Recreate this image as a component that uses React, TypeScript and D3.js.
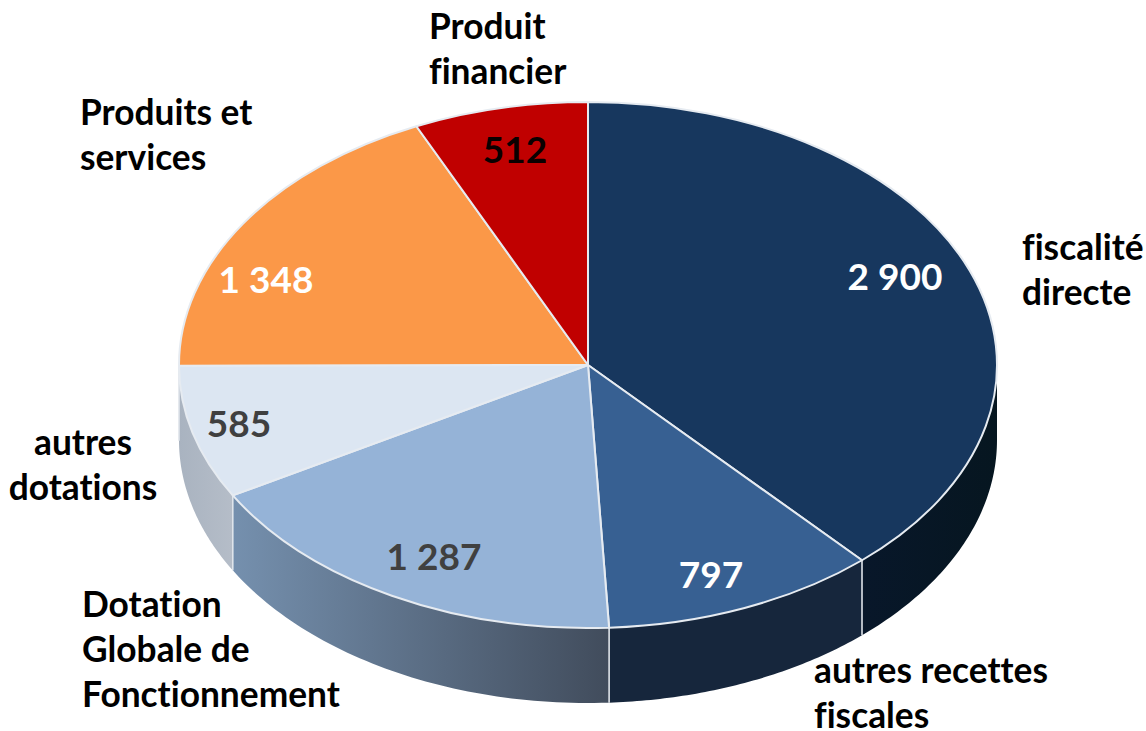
import React from 'react';
import * as d3 from 'd3';

const categories = ['fiscalité directe', 'autres recettes fiscales', 'Dotation Globale de Fonctionnement', 'autres dotations', 'Produits et services', 'Produit financier'];
const values = [2900, 797, 1287, 585, 1348, 512];
const valueLabels = ['2 900', '797', '1 287', '585', '1 348', '512'];

const categoryLines = [['fiscalité', 'directe'], ['autres recettes', 'fiscales'], ['Dotation', 'Globale de', 'Fonctionnement'], ['autres', 'dotations'], ['Produits et', 'services'], ['Produit', 'financier']];
const topColors = ['#17375e', '#376092', '#95b3d7', '#dce6f2', '#fb9848', '#c00000'];
const valueColors = ['#ffffff', '#ffffff', '#404040', '#404040', '#ffffff', '#0a0000'];
const wallFrom = ['#08172a', '#16263c', '#7590ae', '#a9b3c0', '#fb9848', '#c00000'];
const wallTo = ['#061620', '#16263c', '#414c5c', '#b5bdc8', '#fb9848', '#c00000'];

// label placement: [x, first baseline] for names, [centre x, baseline] for values
const categoryPos = [[1022, 260], [814, 683], [82, 617], [83, 455], [80, 125], [429, 39]];
const categoryAnchor = ['start', 'start', 'start', 'middle', 'start', 'start'];
const valuePos = [[895, 290], [711, 588], [434, 570], [239, 437], [266, 293], [515, 163]];

const W = 1146;
const H = 731;
const cx = 588;
const cy = 365;
const rx = 409;
const ry = 263;
const depth = 75;
const lineGap = 45.2;
const deg = Math.PI / 180;

// the tilted 3D pie squeezes the front slices a little
const tilt = d3.scaleLinear()
  .domain([0, 140, 180, 240, 270, 360].map(d => d * deg))
  .range([0, 137.4, 177.9, 238.7, 270, 360].map(d => d * deg));

const slices = d3.pie<number>().sort(null)(values).map(s => ({
  ...s,
  startAngle: tilt(s.startAngle),
  endAngle: tilt(s.endAngle),
}));

const arc = d3.arc<any>().innerRadius(0).outerRadius(rx);

const px = (a: number) => cx + rx * Math.sin(a);
const py = (a: number) => cy - ry * Math.cos(a);

const wallArea = d3.area<number>().x(px).y0(py).y1(a => py(a) + depth);

// only the part of a slice facing the viewer has a wall
function wallAngles(s: { startAngle: number; endAngle: number }) {
  const a0 = Math.max(s.startAngle, 90 * deg);
  const a1 = Math.min(s.endAngle, 270 * deg);
  if (a1 <= a0) return null;
  const n = 60;
  return d3.range(n + 1).map(i => a0 + ((a1 - a0) * i) / n);
}

export default function App() {
  const fontFamily = 'Lato, sans-serif';
  return (
    <svg width={W} height={H} style={{ position: 'absolute', left: 0, top: 0, background: '#fff', fontVariantLigatures: 'none' }} fontFamily={fontFamily} fontWeight={700}>
      <defs>
        {slices.map((s, i) => {
          const angles = wallAngles(s);
          if (!angles) return null;
          return (
            <linearGradient key={i} id={`wall${i}`} gradientUnits="userSpaceOnUse" x1={d3.min(angles, px)} x2={d3.max(angles, px)} y1={0} y2={0}>
              <stop offset="0" stopColor={wallFrom[i]} />
              <stop offset="1" stopColor={wallTo[i]} />
            </linearGradient>
          );
        })}
      </defs>

      <g>
        {slices.map((s, i) => {
          const angles = wallAngles(s);
          if (!angles) return null;
          return <path key={i} d={wallArea(angles) as string} fill={`url(#wall${i})`} />;
        })}
        {slices.map((s, i) => {
          const a = s.startAngle;
          if (a <= 90 * deg || a >= 270 * deg) return null;
          return <line key={i} x1={px(a)} x2={px(a)} y1={py(a)} y2={py(a) + depth} stroke="#dfe4ea" strokeWidth={1.6} />;
        })}
      </g>

      <g transform={`translate(${cx},${cy}) scale(1,${ry / rx})`}>
        {slices.map((s, i) => (
          <path key={i} d={arc(s) as string} fill={topColors[i]} stroke="#e6ebf1" strokeWidth={2} vectorEffect="non-scaling-stroke" strokeLinejoin="round">
            <title>{categories[i]}</title>
          </path>
        ))}
      </g>

      <g fontSize={37}>
        {valueLabels.map((t, i) => (
          <text key={t} x={valuePos[i][0]} y={valuePos[i][1]} textAnchor="middle" fill={valueColors[i]}>{t}</text>
        ))}
      </g>

      <g fontSize={35.3} fill="#000">
        {categoryLines.map((lines, i) => (
          <text key={i} textAnchor={categoryAnchor[i]}>
            {lines.map((l, j) => (
              <tspan key={l} x={categoryPos[i][0]} y={categoryPos[i][1] + j * lineGap}>{l}</tspan>
            ))}
          </text>
        ))}
      </g>
    </svg>
  );
}
